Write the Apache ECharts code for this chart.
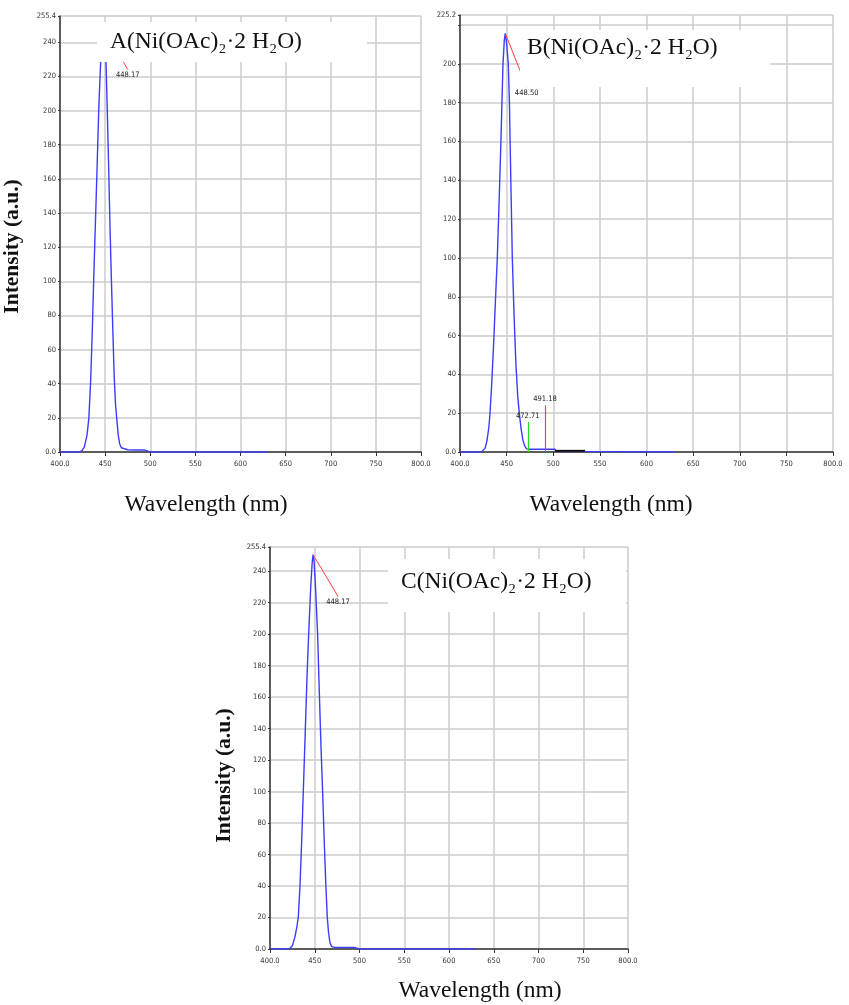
<!DOCTYPE html>
<html>
<head>
<meta charset="utf-8">
<script src="https://cdn.jsdelivr.net/npm/echarts@6/dist/echarts.min.js"></script>
<style>
html,body{margin:0;padding:0;background:#fff;}
#chart{width:849px;height:1005px;}
</style>
</head>
<body>
<div id="chart"></div>
<script>
// ---- Data ----
const waveA = [400, 420, 424, 427, 430, 432, 434, 436, 437.3, 439, 441, 442.9, 445, 447, 448.2, 449.5, 451, 452.4, 454, 455.5, 457, 458.5, 460, 461.5, 462.8, 464.5, 466, 468, 470, 475, 485, 493, 495, 500, 630];
const intenA = [0, 0, 0.5, 3, 10, 20, 42, 75, 100, 130, 165, 200, 228, 246, 250, 246, 228, 200, 165, 130, 100, 72, 45, 28, 20, 10, 5, 2.5, 1.5, 1.3, 1.2, 1.2, 0.3, 0, 0];

const waveB = [400, 423, 425, 427, 429, 431, 432.2, 434, 436, 438, 440, 442, 444, 446.1, 447.5, 448.5, 449.7, 451.8, 453, 454.5, 456.1, 458, 460, 462, 463.6, 465.5, 467.5, 469.5, 471.5, 475, 490, 502, 503, 505, 630];
const intenB = [0, 0, 0.3, 2, 6, 13, 20, 35, 55, 78, 100, 130, 162, 200, 212, 215.7, 212, 200, 180, 140, 100, 70, 45, 28, 20, 12, 6, 3, 1.6, 1.4, 1.4, 1.4, 0.3, 0, 0];
const waveBDark = [502, 534];
const intenBDark = [0.6, 0.6];

const waveC = [400, 418, 422, 425, 428, 430, 431.6, 433.5, 435.5, 437.2, 439.5, 441.5, 443.2, 445.5, 447.2, 448.2, 449.3, 451, 453.2, 455, 457, 458.8, 460.5, 462.3, 464, 465.5, 467, 469, 472, 485, 494, 496, 500, 630];
const intenC = [0, 0, 0.3, 2, 8, 14, 20, 40, 70, 100, 140, 175, 200, 230, 246, 250.5, 246, 228, 200, 165, 128, 100, 70, 42, 20, 10, 4, 1.5, 1, 1, 1, 0.2, 0, 0];

const peakLabels = ['448.17', '448.50', '448.17'];
const peakPoints = [[448.17, 250], [448.5, 215.7], [448.17, 250.5]];
const peakLabelPoints = [[475, 224], [471.5, 188], [476, 224]];
const markerWaves = [472.71, 491.18];
const markerHeights = [15.5, 24];
const markerLabels = ['472.71', '491.18'];

const yMaxes = [255.4, 225.2, 255.4];
const yTickStep = 20;
const xMin = 400, xMax = 800, xTickStep = 50;
const titles = ['A(Ni(OAc)\u2082\u00b72 H\u2082O)', 'B(Ni(OAc)\u2082\u00b72 H\u2082O)', 'C(Ni(OAc)\u2082\u00b72 H\u2082O)'];
const xName = 'Wavelength (nm)';
const yName = 'Intensity (a.u.)';

// ---- Chart ----
const zip = (xs, ys) => xs.map((x, i) => [x, ys[i]]);
const blue = '#3c3cff';
const tickFont = "'DejaVu Sans Condensed', 'Liberation Sans', Arial, sans-serif";
const serif = "'Liberation Serif', 'Times New Roman', serif";

const grids = [
  {left: 60, top: 16, width: 361, height: 436},
  {left: 460, top: 15, width: 373, height: 437},
  {left: 270, top: 547, width: 358, height: 402}
].map(g => Object.assign({outerBoundsMode: 'none', containLabel: false}, g));

const xNamePad = [[0, 69, 0, 0], [0, 71, 0, 0], [0, 0, 0, 62]];
const xNameGap = [41, 41, 30];

const xAxes = [0, 1, 2].map(i => ({
  type: 'value', gridIndex: i, min: xMin, max: xMax, interval: xTickStep,
  name: xName, nameLocation: 'middle', nameGap: xNameGap[i],
  nameTextStyle: {fontFamily: serif, fontSize: 23.5, color: '#111', padding: xNamePad[i]},
  axisLine: {show: true, onZero: false, lineStyle: {color: '#333', width: 1.5}},
  axisTick: {show: true, length: 4, lineStyle: {color: '#333'}},
  axisLabel: {fontSize: 7.5, fontFamily: tickFont, color: '#333', margin: 8,
    formatter: v => (v === xMin || v === xMax) ? v.toFixed(1) : String(v)},
  splitLine: {show: true, lineStyle: {color: '#cccccc', width: 1.5}}
}));

const yNameCfg = [
  {name: yName, nameGap: 37, padding: [0, 25, 0, 0]},
  {name: '', nameGap: 38, padding: 0},
  {name: yName, nameGap: 35, padding: [0, 55, 0, 0]}
];

const yAxes = [0, 1, 2].map(i => ({
  type: 'value', gridIndex: i, min: 0, max: yMaxes[i], interval: yTickStep,
  name: yNameCfg[i].name, nameLocation: 'middle', nameGap: yNameCfg[i].nameGap, nameRotate: 90,
  nameTextStyle: {fontFamily: serif, fontSize: 21.5, fontWeight: 'bold', color: '#111', padding: yNameCfg[i].padding},
  axisLine: {show: true, onZero: false, lineStyle: {color: '#333', width: 1.5}},
  axisTick: {show: true, length: 2, lineStyle: {color: '#333'}},
  axisLabel: {fontSize: 7.5, fontFamily: tickFont, color: '#333', margin: 4, showMaxLabel: true,
    formatter: v => {
      if (v === 0) return '0.0';
      if (Math.abs(v - yMaxes[i]) < 1e-6) return yMaxes[i].toFixed(1);
      if (i === 1 && v === 220) return '';
      return String(v);
    }},
  splitLine: {show: true, lineStyle: {color: '#cccccc', width: 1.5}}
}));

function peakMarks(i) {
  return {
    markLine: {
      silent: true, symbol: ['none', 'none'], animation: false,
      lineStyle: {color: '#ff4040', width: 1, type: 'solid'},
      label: {show: false},
      data: [[{coord: peakPoints[i]}, {coord: peakLabelPoints[i]}]]
    },
    markPoint: {
      silent: true, symbol: 'circle', symbolSize: 1, animation: false,
      itemStyle: {color: 'rgba(0,0,0,0)'},
      label: {show: true, position: 'bottom', distance: 1, fontSize: 7.5, fontFamily: tickFont, color: '#222',
        formatter: peakLabels[i]},
      data: [{coord: peakLabelPoints[i]}]
    }
  };
}

const lineBase = {type: 'line', symbol: 'none', animation: false, lineStyle: {color: blue, width: 1.4}, itemStyle: {color: blue}, z: 3};

const series = [
  Object.assign({}, lineBase, {name: 'A', xAxisIndex: 0, yAxisIndex: 0, data: zip(waveA, intenA)}, peakMarks(0)),
  Object.assign({}, lineBase, {name: 'B', xAxisIndex: 1, yAxisIndex: 1, data: zip(waveB, intenB)}, peakMarks(1)),
  Object.assign({}, lineBase, {name: 'B2', xAxisIndex: 1, yAxisIndex: 1, data: zip(waveBDark, intenBDark),
    lineStyle: {color: '#111', width: 2}, z: 4}),
  {
    type: 'line', name: 'Bmarkers', xAxisIndex: 1, yAxisIndex: 1, data: [], animation: false,
    markLine: {
      silent: true, symbol: ['none', 'none'], animation: false,
      data: markerWaves.map((w, k) => [
        {coord: [w, 0], lineStyle: {color: k === 0 ? '#22dd22' : '#ff4040', width: 1.2, type: 'solid'}},
        {coord: [w, markerHeights[k]], label: {show: true, position: 'end', distance: 2, formatter: markerLabels[k],
          fontSize: 7.5, fontFamily: tickFont, color: '#222'}}
      ])
    }
  },
  Object.assign({}, lineBase, {name: 'C', xAxisIndex: 2, yAxisIndex: 2, data: zip(waveC, intenC)}, peakMarks(2))
];

const boxes = [
  {x: 97, y: 22, w: 270, h: 40, tx: 110, ty: 30},
  {x: 520, y: 30, w: 250, h: 57, tx: 527, ty: 36},
  {x: 388, y: 559, w: 238, h: 53, tx: 401, ty: 570}
];
const graphic = [];
boxes.forEach((b, i) => {
  graphic.push({type: 'rect', z: 100, shape: {x: b.x, y: b.y, width: b.w, height: b.h}, style: {fill: '#fff'}});
  graphic.push({type: 'text', z: 101, x: b.tx, y: b.ty,
    style: {text: titles[i], fontSize: 23.5, fontFamily: serif, fill: '#111', textVerticalAlign: 'top'}});
});

const chart = echarts.init(document.getElementById('chart'), null, {renderer: 'canvas'});
chart.setOption({
  animation: false,
  backgroundColor: '#fff',
  grid: grids,
  xAxis: xAxes,
  yAxis: yAxes,
  series: series,
  graphic: graphic
});
</script>
</body>
</html>
